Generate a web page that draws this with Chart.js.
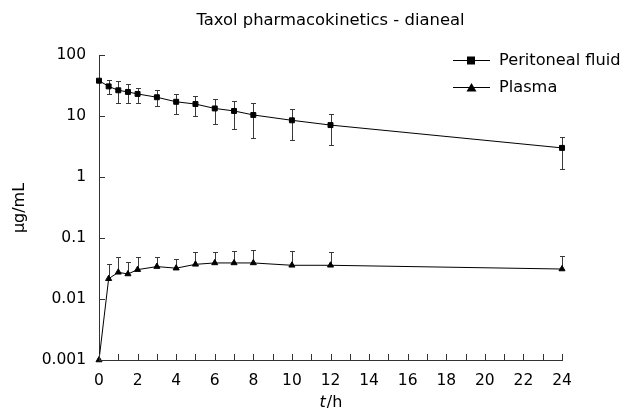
<!DOCTYPE html>
<html>
<head>
<meta charset="utf-8">
<script src="https://cdn.jsdelivr.net/npm/chart.js"></script>
<style>
  html, body { margin: 0; padding: 0; background: #fff; }
  .chart-parent { width: 622px; height: 416px; }
</style>
</head>
<body>
<div class="chart-parent"><canvas id="myChart"></canvas></div>
<script>
const hours = [0, 0.5, 1, 1.5, 2, 3, 4, 5, 6, 7, 8, 10, 12, 24];
const fluidMean = [37.9, 30.6, 26.4, 24.8, 23.0, 20.3, 17.1, 15.7, 13.3, 12.1, 10.4, 8.5, 7.1, 3.0];
const fluidHigh = [40.5, 38.8, 36.9, 33.4, 28.8, 26.4, 23.0, 21.1, 19.1, 17.7, 16.3, 12.8, 10.9, 4.45];
const fluidLow = [35.5, 23.3, 16.4, 16.4, 16.4, 14.5, 10.8, 10.0, 7.4, 6.2, 4.4, 4.1, 3.35, 1.33];
const plasmaMean = [0.001, 0.0215, 0.0274, 0.0257, 0.0303, 0.034, 0.032, 0.037, 0.039, 0.039, 0.039, 0.0357, 0.0357, 0.031];
const plasmaHigh = [null, 0.038, 0.048, 0.041, 0.0497, 0.049, 0.046, 0.059, 0.059, 0.062, 0.064, 0.061, 0.058, 0.050];
const yTicks = [0.001, 0.01, 0.1, 1, 10, 100];
const xLabelStep = 2;

const FONT = "DejaVu Sans";

// error bars, drawn under the markers
const errorBars = {
  id: "errorBars",
  beforeDatasetsDraw(chart) {
    const ctx = chart.ctx;
    const xs = chart.scales.x, ys = chart.scales.y;
    ctx.save();
    ctx.strokeStyle = "#3a3a3a";
    ctx.lineWidth = 1;
    chart.data.datasets.forEach(ds => {
      ds.data.forEach((p, i) => {
        const x = Math.round(xs.getPixelForValue(p.x)) + 0.5;
        const y0 = ys.getPixelForValue(p.y);
        const hi = ds.errHigh ? ds.errHigh[i] : null;
        const lo = ds.errLow ? ds.errLow[i] : null;
        [hi, lo].forEach(v => {
          if (v == null) return;
          const y1 = Math.round(ys.getPixelForValue(v)) + 0.5;
          ctx.beginPath();
          ctx.moveTo(x, y0);
          ctx.lineTo(x, y1);
          ctx.moveTo(x - 2.5, y1);
          ctx.lineTo(x + 2.5, y1);
          ctx.stroke();
        });
      });
    });
    ctx.restore();
  }
};

// inner tick marks, titles and legend
const decorations = {
  id: "decorations",
  afterDraw(chart) {
    const ctx = chart.ctx;
    const xs = chart.scales.x, ys = chart.scales.y;
    const a = chart.chartArea;
    const cx = (a.left + a.right) / 2;
    ctx.save();
    ctx.strokeStyle = "#333";
    ctx.lineWidth = 1;
    ctx.beginPath();
    for (let h = 0; h <= 24; h++) {
      const x = Math.round(xs.getPixelForValue(h)) + 0.5;
      ctx.moveTo(x, a.bottom);
      ctx.lineTo(x, a.bottom - 6);
    }
    yTicks.forEach(v => {
      const y = Math.round(ys.getPixelForValue(v)) + 0.5;
      ctx.moveTo(a.left, y);
      ctx.lineTo(a.left + 6, y);
    });
    ctx.stroke();

    ctx.fillStyle = "#000";
    ctx.textAlign = "center";
    ctx.textBaseline = "middle";
    ctx.font = "16.4px '" + FONT + "'";
    ctx.fillText("Taxol pharmacokinetics - dianeal", cx, 21);

    // x title: italic t + "/h"
    const rest = "/h";
    ctx.font = "italic 16px '" + FONT + "'";
    const tw = ctx.measureText("t").width;
    ctx.font = "16px '" + FONT + "'";
    const rw = ctx.measureText(rest).width;
    const cy = 403;
    ctx.textAlign = "left";
    ctx.font = "italic 16px '" + FONT + "'";
    ctx.fillText("t", cx - (tw + rw) / 2, cy);
    ctx.font = "16px '" + FONT + "'";
    ctx.fillText(rest, cx - (tw + rw) / 2 + tw + 1, cy);

    // y title
    ctx.save();
    ctx.translate(20, 208);
    ctx.rotate(-Math.PI / 2);
    ctx.textAlign = "center";
    ctx.font = "16px '" + FONT + "'";
    ctx.fillText("\u03bcg/mL", 0, 0);
    ctx.restore();

    // legend
    const items = [
      { label: "Peritoneal fluid", style: "rect", y: 60 },
      { label: "Plasma", style: "triangle", y: 87 }
    ];
    items.forEach(it => {
      ctx.strokeStyle = "#000";
      ctx.beginPath();
      ctx.moveTo(453, it.y + 0.5);
      ctx.lineTo(490, it.y + 0.5);
      ctx.stroke();
      ctx.fillStyle = "#000";
      ctx.beginPath();
      if (it.style === "rect") {
        ctx.rect(467, it.y - 3.5, 8, 8);
      } else {
        ctx.moveTo(471.5, it.y - 4);
        ctx.lineTo(476.5, it.y + 4.5);
        ctx.lineTo(466.5, it.y + 4.5);
        ctx.closePath();
      }
      ctx.fill();
      ctx.textAlign = "left";
      ctx.font = "16.2px '" + FONT + "'";
      ctx.fillText(it.label, 499, it.y + 1);
    });
    ctx.restore();
  }
};

const toPoints = vals => hours.map((h, i) => ({ x: h, y: vals[i] }));

new Chart(document.getElementById("myChart"), {
  type: "line",
  data: {
    datasets: [
      {
        label: "Peritoneal fluid",
        data: toPoints(fluidMean),
        errHigh: fluidHigh,
        errLow: fluidLow,
        borderColor: "#000",
        backgroundColor: "#000",
        borderWidth: 1,
        pointStyle: "rect",
        pointRadius: 3.5,
        pointHoverRadius: 3.5,
        tension: 0
      },
      {
        label: "Plasma",
        data: toPoints(plasmaMean),
        errHigh: plasmaHigh,
        borderColor: "#000",
        backgroundColor: "#000",
        borderWidth: 1,
        pointStyle: "triangle",
        pointRadius: 3.5,
        pointHoverRadius: 3.5,
        tension: 0
      }
    ]
  },
  options: {
    responsive: true,
    maintainAspectRatio: false,
    animation: false,
    events: [],
    clip: false,
    layout: { padding: { top: 55, right: 60, left: 0, bottom: 0 } },
    plugins: { legend: { display: false }, title: { display: false }, tooltip: { enabled: false } },
    scales: {
      x: {
        type: "linear",
        min: 0,
        max: 24,
        afterFit: s => { s.height = 56; },
        afterBuildTicks: s => {
          s.ticks = [];
          for (let h = 0; h <= 24; h += xLabelStep) s.ticks.push({ value: h });
        },
        ticks: {
          color: "#000",
          padding: 12,
          maxRotation: 0,
          autoSkip: false,
          font: { family: FONT, size: 15.5 },
          callback: v => String(v)
        },
        grid: { display: false, drawTicks: false },
        border: { display: true, color: "#333", width: 1 }
      },
      y: {
        type: "logarithmic",
        min: 0.001,
        max: 100,
        afterFit: s => { s.width = 99; },
        afterBuildTicks: s => { s.ticks = yTicks.map(v => ({ value: v })); },
        ticks: {
          color: "#000",
          padding: 13,
          autoSkip: false,
          font: { family: FONT, size: 15.5 },
          callback: v => String(v)
        },
        grid: { display: false, drawTicks: false },
        border: { display: true, color: "#333", width: 1 }
      }
    }
  },
  plugins: [errorBars, decorations]
});
</script>
</body>
</html>
